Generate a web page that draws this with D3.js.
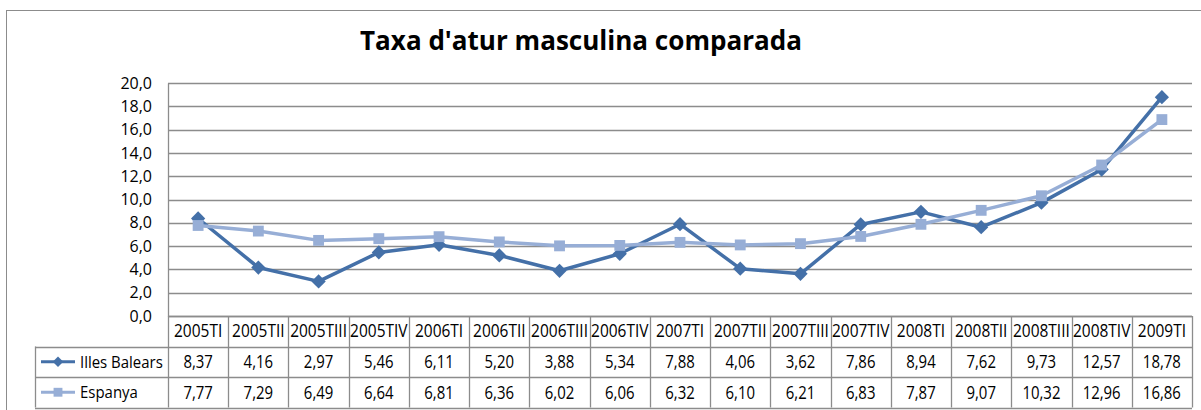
<!DOCTYPE html>
<html>
<head>
<meta charset="utf-8">
<script src="https://cdn.jsdelivr.net/npm/d3@7"></script>
<style>
  body { margin: 0; background: #fff; }
  text { font-family: "Open Sans", "Noto Sans", sans-serif; }
</style>
</head>
<body>
<div id="chart"></div>
<script>
const categories = ['2005TI', '2005TII', '2005TIII', '2005TIV', '2006TI', '2006TII', '2006TIII', '2006TIV',
    '2007TI', '2007TII', '2007TIII', '2007TIV', '2008TI', '2008TII', '2008TIII', '2008TIV', '2009TI'];
const illesBalears = [8.37, 4.16, 2.97, 5.46, 6.11, 5.20, 3.88, 5.34, 7.88, 4.06, 3.62, 7.86, 8.94, 7.62, 9.73, 12.57, 18.78];
const espanya = [7.77, 7.29, 6.49, 6.64, 6.81, 6.36, 6.02, 6.06, 6.32, 6.10, 6.21, 6.83, 7.87, 9.07, 10.32, 12.96, 16.86];
const yTicks = [0, 2, 4, 6, 8, 10, 12, 14, 16, 18, 20];

const series = [
    { name: 'Illes Balears', values: illesBalears, color: '#4470A8', symbol: 'diamond' },
    { name: 'Espanya', values: espanya, color: '#97AED6', symbol: 'square' }
];

const w = 1201;
const h = 410;
const plotLeft = 168, plotRight = 1192, plotTop = 83, plotBottom = 316;
const rowH = 30.5;
const legendX = 35;

const svg = d3.select('#chart')
    .append('svg')
    .attr('width', w)
    .attr('height', h);

// the source picture is squeezed sideways, so text gets a narrow x scale
function squeezed(sel, x, y, sx) {
    return sel.attr('x', 0).attr('y', 0)
        .attr('transform', `translate(${x}, ${y}) scale(${sx}, 1)`);
}

// chart frame
svg.append('rect')
    .attr('x', 6.5).attr('y', 10.5)
    .attr('width', 1210).attr('height', 420)
    .attr('fill', 'none').attr('stroke', '#8c8c8c');

// Title
svg.append('text')
    .attr('x', 581).attr('y', 50)
    .attr('text-anchor', 'middle')
    .attr('font-size', 26)
    .attr('font-weight', 'bold')
    .attr('textLength', 442)
    .attr('lengthAdjust', 'spacingAndGlyphs')
    .text("Taxa d'atur masculina comparada");

// Scales
const xScale = d3.scaleBand()
    .domain(categories)
    .range([plotLeft, plotRight]);

const yScale = d3.scaleLinear()
    .domain([0, 20])
    .range([plotBottom, plotTop]);

// gridlines
svg.append('g')
    .selectAll('line')
    .data(yTicks)
    .enter()
    .append('line')
    .attr('x1', plotLeft).attr('x2', plotRight)
    .attr('y1', d => Math.round(yScale(d)) + 0.5)
    .attr('y2', d => Math.round(yScale(d)) + 0.5)
    .attr('stroke', '#8c8c8c')
    .attr('stroke-width', 1.3);

// Y axis
const yAxis = d3.axisLeft(yScale)
    .tickValues(yTicks)
    .tickSize(0)
    .tickPadding(16)
    .tickFormat(d => d3.format('.1f')(d).replace('.', ','));

svg.append('g')
    .attr('transform', `translate(${plotLeft}, 0)`)
    .call(yAxis)
    .call(g => g.select('.domain').attr('stroke', '#8c8c8c').attr('stroke-width', 1.3))
    .call(g => g.selectAll('text').attr('font-size', 16).attr('fill', '#000')
        .style('font-family', '"Open Sans", sans-serif'));

// Data table
const table = svg.append('g').attr('stroke', '#8c8c8c').attr('stroke-width', 1.3);
const tBottom = plotBottom + rowH * 3;

// vertical lines between categories
const edges = categories.map(c => xScale(c)).concat([plotRight]);
table.selectAll('line.v')
    .data(edges)
    .enter()
    .append('line')
    .attr('x1', d => Math.round(d) + 0.5).attr('x2', d => Math.round(d) + 0.5)
    .attr('y1', plotBottom).attr('y2', tBottom);

// horizontal lines
table.append('line').attr('x1', plotLeft).attr('x2', plotRight).attr('y1', plotBottom + 0.5).attr('y2', plotBottom + 0.5);
[1, 2, 3].forEach(i => {
    table.append('line')
        .attr('x1', legendX).attr('x2', plotRight)
        .attr('y1', Math.round(plotBottom + rowH * i) + 0.5)
        .attr('y2', Math.round(plotBottom + rowH * i) + 0.5);
});
table.append('line')
    .attr('x1', legendX + 0.5).attr('x2', legendX + 0.5)
    .attr('y1', plotBottom + rowH).attr('y2', tBottom);

// header labels
svg.append('g')
    .selectAll('text')
    .data(categories)
    .enter()
    .append('text')
    .each(function (d) {
        squeezed(d3.select(this), xScale(d) + xScale.bandwidth() / 2, plotBottom + rowH / 2 + 6, 0.86);
    })
    .attr('text-anchor', 'middle')
    .attr('font-size', 18)
    .text(d => d);

const symbolPath = s => d3.symbol()
    .type(s.symbol === 'diamond' ? d3.symbolDiamond2 : d3.symbolSquare2)
    .size(s.symbol === 'diamond' ? 130 : 150)();

series.forEach((s, si) => {
    const rowY = plotBottom + rowH * (si + 1) + rowH / 2;

    // value cells
    svg.append('g')
        .selectAll('text')
        .data(s.values)
        .enter()
        .append('text')
        .each(function (d, i) {
            squeezed(d3.select(this), xScale(categories[i]) + xScale.bandwidth() / 2, rowY + 6.5, 0.83);
        })
        .attr('text-anchor', 'middle')
        .attr('font-size', 18)
        .text(d => d3.format('.2f')(d).replace('.', ','));

    // legend key
    svg.append('line')
        .attr('x1', 41).attr('x2', 75)
        .attr('y1', rowY).attr('y2', rowY)
        .attr('stroke', s.color).attr('stroke-width', 3);
    svg.append('path')
        .attr('d', d3.symbol().type(s.symbol === 'diamond' ? d3.symbolDiamond2 : d3.symbolSquare2)
            .size(s.symbol === 'diamond' ? 70 : 100)())
        .attr('transform', `translate(58, ${rowY})`)
        .attr('fill', s.color);
    squeezed(svg.append('text'), 80, rowY + 6, 0.88)
        .attr('font-size', 17)
        .text(s.name);
});

// Lines, in series order so Espanya sits on top
const line = d3.line()
    .x((d, i) => xScale(categories[i]) + xScale.bandwidth() / 2)
    .y(d => yScale(d));

series.forEach(s => {
    svg.append('path')
        .datum(s.values)
        .attr('d', line)
        .attr('fill', 'none')
        .attr('stroke', s.color)
        .attr('stroke-width', 3.5)
        .attr('stroke-linejoin', 'round');

    svg.append('g')
        .selectAll('path')
        .data(s.values)
        .enter()
        .append('path')
        .attr('d', symbolPath(s))
        .attr('transform', (d, i) => `translate(${xScale(categories[i]) + xScale.bandwidth() / 2}, ${yScale(d)})`)
        .attr('fill', s.color);
});
</script>
</body>
</html>
